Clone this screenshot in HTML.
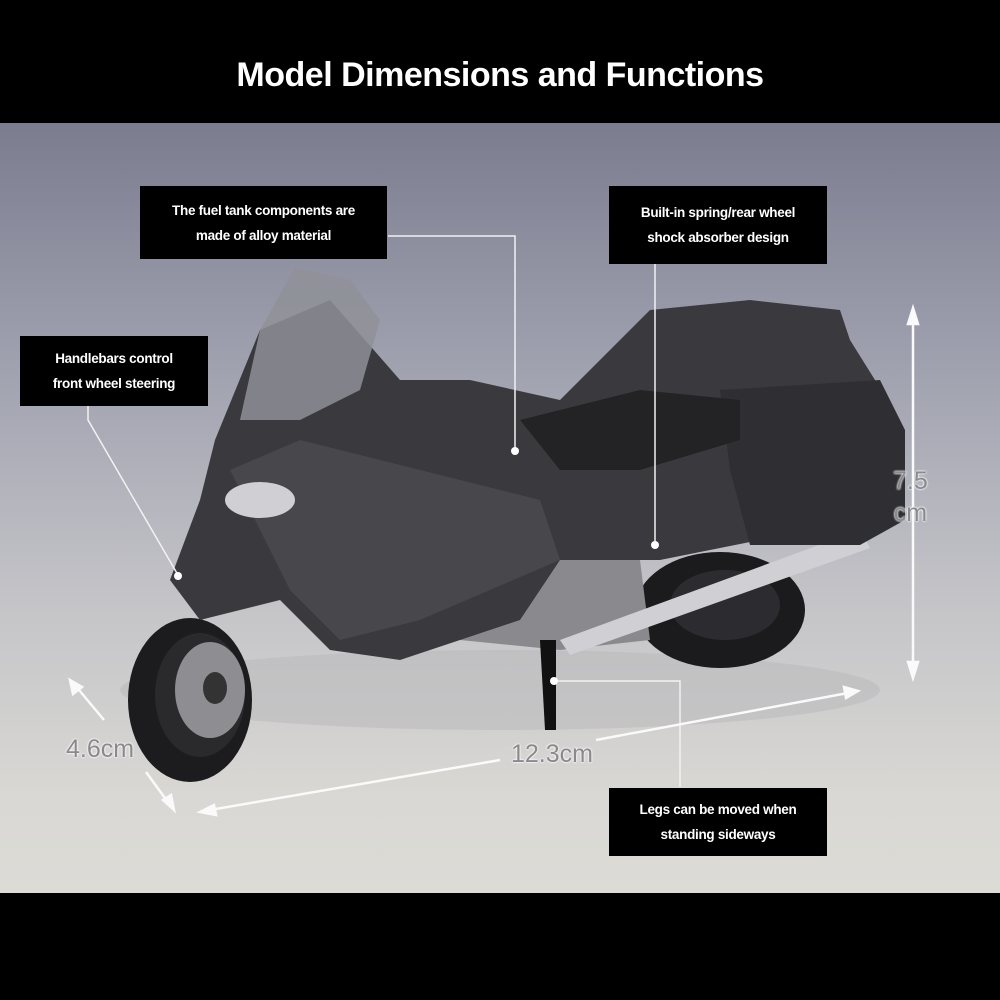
<!DOCTYPE html>
<html><head><style>
body{margin:0;width:1000px;height:1000px;overflow:hidden;font-family:"Liberation Sans",sans-serif}
.wrap{position:relative;width:1000px;height:1000px;background:linear-gradient(#7b7d8f 123px,#9a9cab 330px,#c4c4c8 600px,#d9d8d4 800px,#dcdbd6 893px)}
.top{position:absolute;left:0;top:0;width:1000px;height:123px;background:#000}
.bot{position:absolute;left:0;top:893px;width:1000px;height:107px;background:#000}
.title{position:absolute;left:0;width:1000px;top:56px;text-align:center;color:#fff;font-weight:bold;font-size:34px;letter-spacing:-0.5px}
.box{position:absolute;background:#000;color:#fff;font-weight:bold;font-size:13.5px;text-align:center;line-height:25px;display:flex;align-items:center;justify-content:center;letter-spacing:-0.3px}
.dim{position:absolute;color:#8a8a8e;font-size:25px;text-shadow:0 0 2px #fff,0 0 2px #fff}
</style></head><body><div class="wrap">
<svg width="1000" height="1000" style="position:absolute;left:0;top:0">
<!-- shadow -->
<ellipse cx="500" cy="690" rx="380" ry="40" fill="#b8b8ba" opacity=".5"/>
<!-- rear wheel -->
<ellipse cx="720" cy="610" rx="85" ry="58" fill="#1b1b1d"/>
<ellipse cx="725" cy="605" rx="55" ry="35" fill="#2c2c30"/>
<!-- front wheel -->
<ellipse cx="190" cy="700" rx="62" ry="82" fill="#1c1c1e"/>
<ellipse cx="200" cy="695" rx="45" ry="62" fill="#2a2a2c"/>
<ellipse cx="210" cy="690" rx="35" ry="48" fill="#8e8e92"/>
<ellipse cx="215" cy="688" rx="12" ry="16" fill="#333"/>
<!-- engine area -->
<polygon points="450,560 560,540 640,560 650,640 560,650 460,640" fill="#8a8a8e"/>
<!-- exhaust -->
<polygon points="560,640 860,530 870,548 570,655" fill="#d0d0d4"/>
<!-- body -->
<polygon points="215,440 260,330 330,300 400,380 470,380 560,400 600,360 650,310 750,300 840,310 850,340 900,420 905,520 850,540 760,540 660,560 560,560 520,620 400,660 330,650 280,600 200,620 170,580 200,500" fill="#3a3a3e"/>
<polygon points="230,470 300,440 420,470 540,500 560,560 420,620 340,640 290,590" fill="#47474c"/>
<polygon points="720,390 880,380 905,430 905,520 860,545 750,545 730,470" fill="#2f2f33"/>
<polygon points="520,420 640,390 740,400 740,440 640,470 560,470" fill="#232326"/>
<!-- windscreen -->
<polygon points="260,330 295,268 350,280 380,320 360,390 300,420 240,420" fill="#8f9098" opacity=".85"/>
<ellipse cx="260" cy="500" rx="35" ry="18" fill="#cfcfd4"/>
<!-- kickstand -->
<polygon points="540,640 556,640 556,730 545,730" fill="#111"/>
<!-- connector lines -->
<g stroke="#f2f2f2" stroke-width="1.5" fill="none">
<polyline points="388,236 515,236 515,450"/>
<line x1="655" y1="264" x2="655" y2="545"/>
<polyline points="88,406 88,420 178,575"/>
<polyline points="680,787 680,681 555,681"/>
</g>
<g fill="#fff"><circle cx="515" cy="451" r="4"/><circle cx="655" cy="545" r="4"/><circle cx="178" cy="576" r="4"/><circle cx="554" cy="681" r="4"/></g>
<!-- dimension arrows -->
<g stroke="#fafafa" stroke-width="2.5" fill="#fafafa">
<line x1="913" y1="320" x2="913" y2="670"/>
<polygon points="913,308 908,324 918,324"/><polygon points="913,678 908,662 918,662"/>
<line x1="74" y1="684" x2="104" y2="720"/><polygon points="70,680 73,694 82,687"/>
<line x1="146" y1="772" x2="170" y2="805"/><polygon points="174,810 163,800 171,795"/>
<line x1="210" y1="810" x2="500" y2="760"/><polygon points="200,812 214,805 216,815"/>
<line x1="596" y1="740" x2="848" y2="693"/><polygon points="858,691 844,687 846,698"/>
</g>
</svg>
<div class="top"></div><div class="bot"></div>
<div class="title">Model Dimensions and Functions</div>
<div class="box" style="left:140px;top:186px;width:247px;height:73px">The fuel tank components are<br>made of alloy material</div>
<div class="box" style="left:609px;top:186px;width:218px;height:78px">Built-in spring/rear wheel<br>shock absorber design</div>
<div class="box" style="left:20px;top:336px;width:188px;height:70px">Handlebars control<br>front wheel steering</div>
<div class="box" style="left:609px;top:788px;width:218px;height:68px">Legs can be moved when<br>standing sideways</div>
<div class="dim" style="left:893px;top:465px;line-height:32px;text-align:center">7.5<br>cm</div>
<div class="dim" style="left:66px;top:735px">4.6cm</div>
<div class="dim" style="left:511px;top:740px">12.3cm</div>
</div></body></html>
